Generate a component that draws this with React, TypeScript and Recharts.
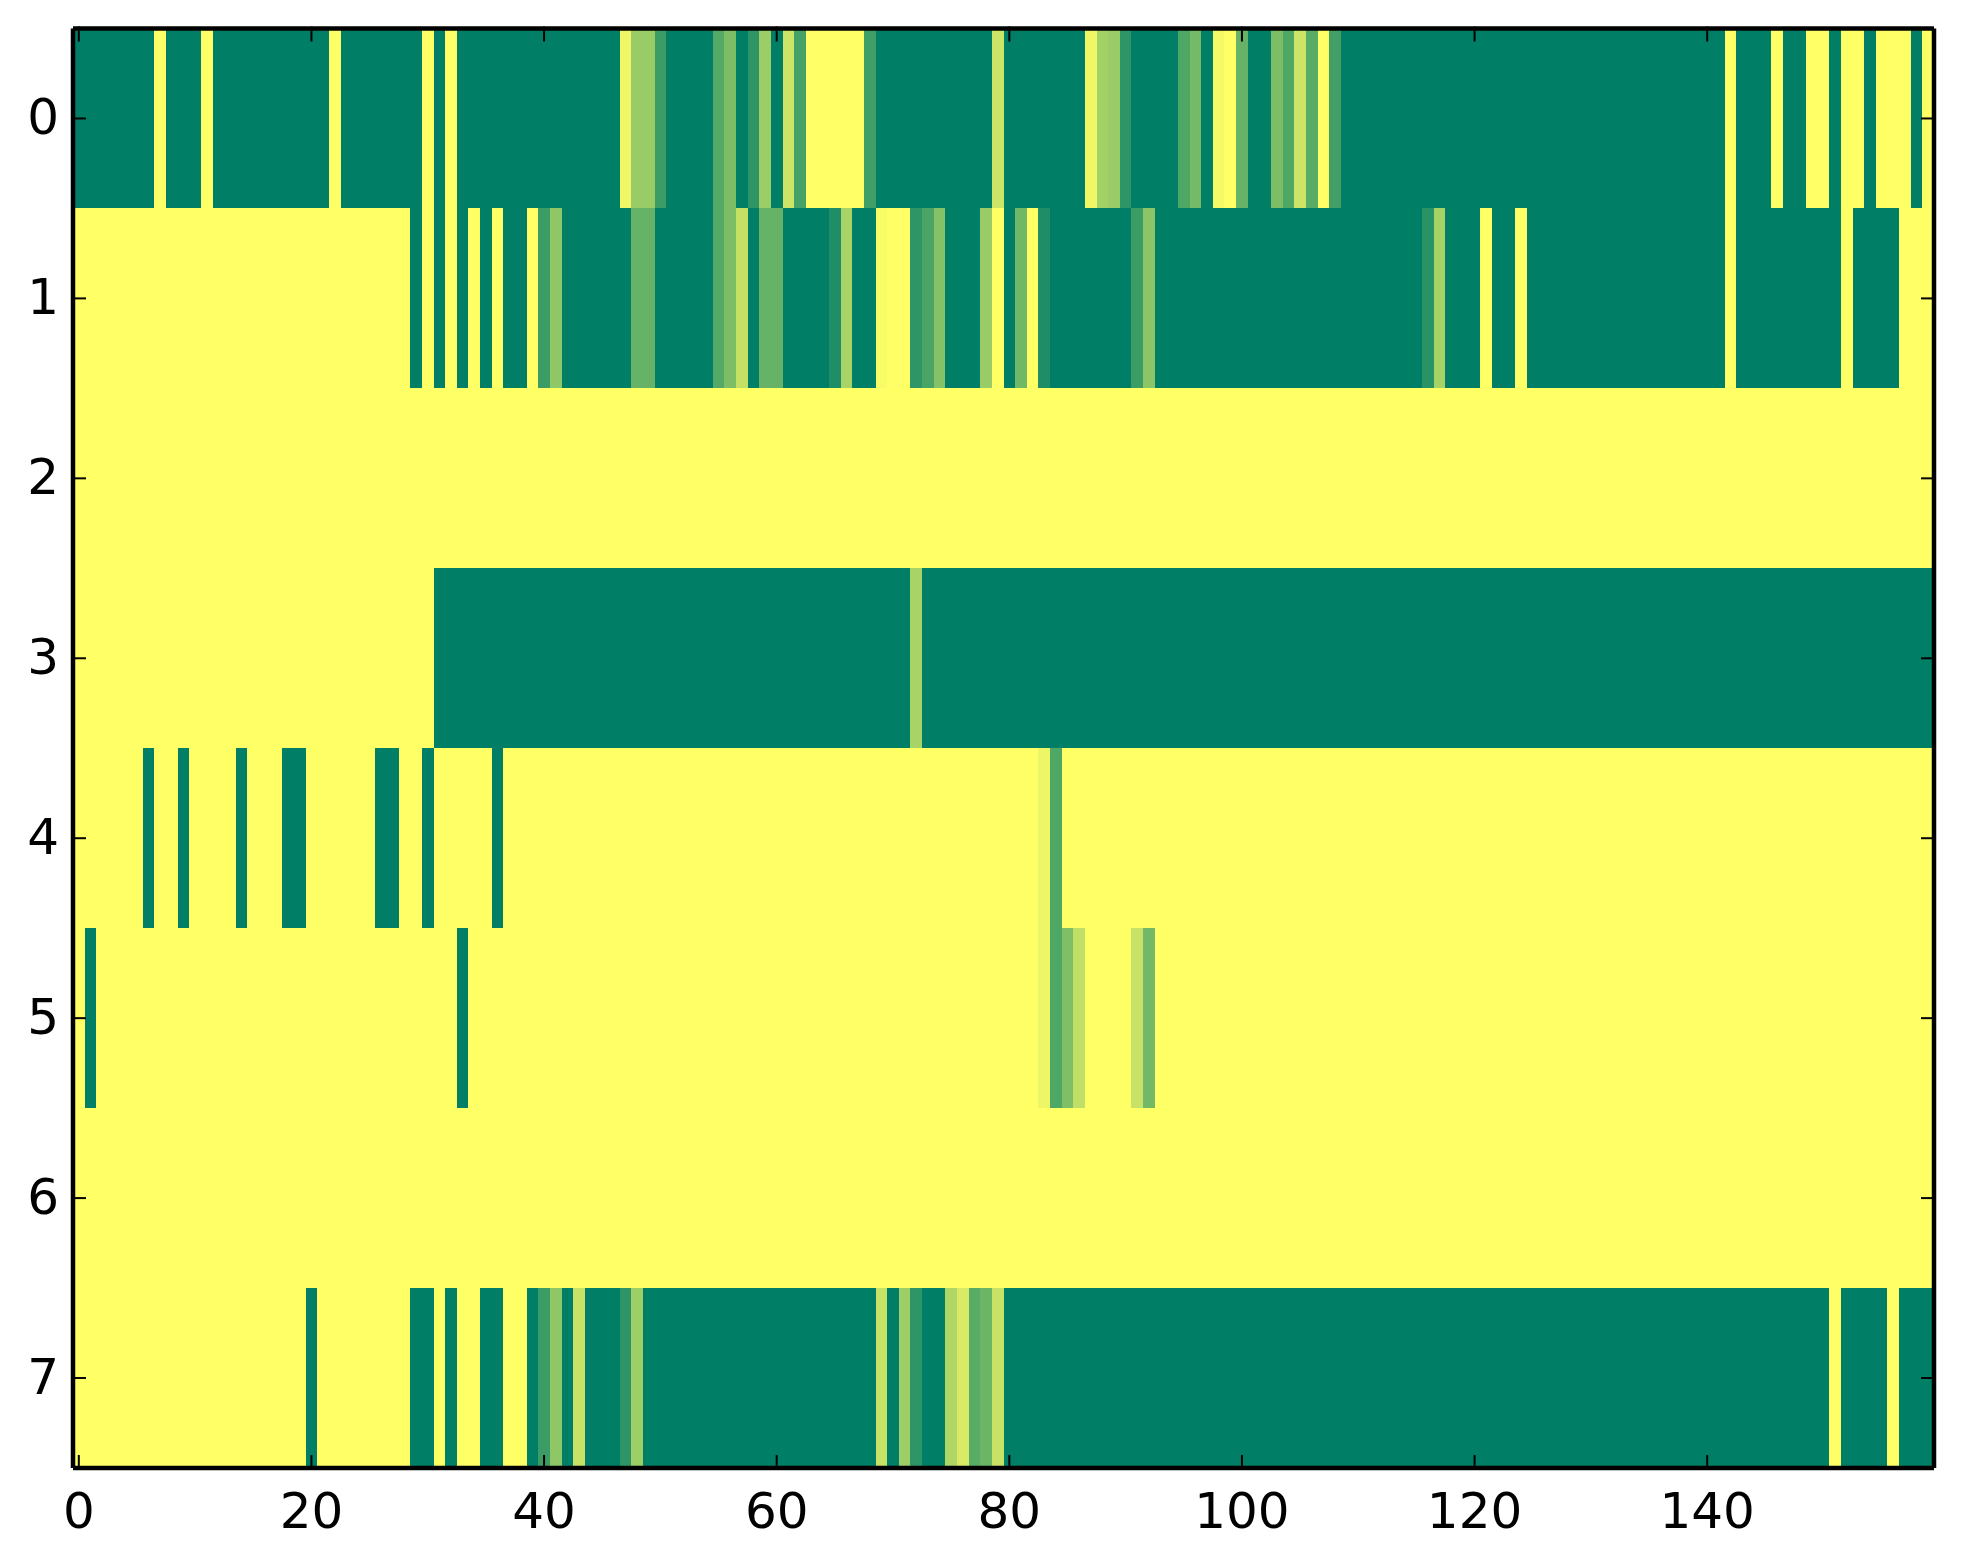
import React from 'react';
import { ScatterChart, Scatter, XAxis, YAxis } from 'recharts';

// each row is a list of runs: [value, how many columns]
const Y = 0;
const D = 1;

const ROW_0 = [[D,7],[Y,1],[D,3],[Y,1],[D,10],[Y,1],[D,7],[Y,1],[D,1],[Y,1],[D,14],[.06,1],[.4,2],[.77,1],[D,4],[.67,1],[.51,1],[D,1],[.82,1],[.39,1],[D,1],[.2,1],[.73,1],[Y,5],[.75,1],[D,10],[.2,1],[D,7],[.06,1],[.36,1],[.4,1],[.82,1],[D,4],[.69,1],[.54,1],[D,1],[.04,1],[Y,1],[.6,1],[D,2],[.51,1],[.69,1],[.2,1],[.65,1],[Y,1],[.74,1],[D,33],[Y,1],[D,3],[Y,1],[D,2],[Y,2],[D,1],[Y,2],[D,1],[Y,3],[D,1],[Y,1]];
const ROW_1 = [[Y,29],[D,1],[Y,1],[D,1],[Y,1],[D,1],[Y,1],[D,1],[Y,1],[D,2],[Y,1],[.77,1],[.44,1],[D,6],[.6,2],[D,5],[.67,1],[.51,1],[.23,1],[D,1],[.6,2],[D,4],[.88,1],[.34,1],[D,2],[.03,1],[Y,2],[.82,1],[.71,1],[.48,1],[D,3],[.4,1],[Y,1],[D,1],[.56,1],[Y,1],[.88,1],[D,7],[.77,1],[.45,1],[D,23],[.84,1],[.35,1],[D,3],[Y,1],[D,2],[Y,1],[D,17],[Y,1],[D,9],[Y,1],[D,4],[Y,3]];
const ROW_2 = [[Y,160]];
const ROW_3 = [[Y,31],[D,41],[.34,1],[D,87]];
const ROW_4 = [[Y,6],[D,1],[Y,2],[D,1],[Y,4],[D,1],[Y,3],[D,2],[Y,6],[D,2],[Y,2],[D,1],[Y,5],[D,1],[Y,46],[.07,1],[.69,1],[Y,75]];
const ROW_5 = [[Y,1],[D,1],[Y,31],[D,1],[Y,49],[.07,1],[.69,1],[.5,1],[.25,1],[Y,4],[.22,1],[.55,1],[Y,67]];
const ROW_6 = [[Y,160]];
const ROW_7 = [[Y,20],[D,1],[Y,8],[D,2],[Y,1],[D,1],[Y,2],[D,2],[Y,2],[D,1],[.77,1],[.44,1],[D,1],[.22,1],[D,3],[.82,1],[.38,1],[D,20],[.22,1],[D,1],[.38,1],[.82,1],[D,2],[.31,1],[.15,1],[.65,1],[.58,1],[.22,1],[D,71],[Y,1],[D,4],[Y,1],[D,3]];

const ROWS = [ROW_0, ROW_1, ROW_2, ROW_3, ROW_4, ROW_5, ROW_6, ROW_7];
const X_TICKS = [0, 20, 40, 60, 80, 100, 120, 140];
const Y_TICKS = [0, 1, 2, 3, 4, 5, 6, 7];

const W = 1963, H = 1564;
const LEFT = 73, RIGHT = 29, TOP = 28.5, BOTTOM = 96;
const CELL_W = (W - LEFT - RIGHT) / 160;
const CELL_H = (H - TOP - BOTTOM) / 8;
const FONT = '"DejaVu Sans", sans-serif';

// summer colormap, reversed
const summerR = (v: number) =>
  `rgb(${Math.round(255 * (1 - v))},${Math.floor(255 * (1 - v * 0.5))},102)`;

const cells = ROWS.flatMap((runs, row) => {
  let col = 0;
  return runs.flatMap(([value, n]) =>
    Array.from({ length: n }, () => ({ col: col++, row, value })));
});

const HeatCell = (p: any) => (
  <rect
    x={p.cx - CELL_W / 2}
    y={p.cy - CELL_H / 2}
    width={CELL_W}
    height={CELL_H}
    fill={summerR(p.payload.value)}
    shapeRendering="crispEdges"
  />
);

const BottomTick = ({ x, y, payload }: any) => (
  <g>
    <line x1={x} x2={x} y1={y} y2={y - 15} stroke="#000" strokeWidth={2} />
    <text x={x} y={y + 58} fontSize={50} fontFamily={FONT} textAnchor="middle" fill="#000">{payload.value}</text>
  </g>
);
const TopTick = ({ x, y }: any) => <line x1={x} x2={x} y1={y} y2={y + 15} stroke="#000" strokeWidth={2} />;
const LeftTick = ({ x, y, payload }: any) => (
  <g>
    <line x1={x} x2={x + 15} y1={y} y2={y} stroke="#000" strokeWidth={2} />
    <text x={x - 12} y={y + 16} fontSize={50} fontFamily={FONT} textAnchor="end" fill="#000">{payload.value}</text>
  </g>
);
const RightTick = ({ x, y }: any) => <line x1={x} x2={x - 15} y1={y} y2={y} stroke="#000" strokeWidth={2} />;

const frame = { stroke: '#000', strokeWidth: 4.5 };

export default function App() {
  return (
    <div style={{ position: 'absolute', left: 0, top: 0, width: W, height: H, background: '#fff' }}>
      <ScatterChart width={W} height={H} margin={{ top: TOP - 1, right: RIGHT - 1, left: 0, bottom: 0 }}>
        <Scatter data={cells} xAxisId="b" yAxisId="l" shape={HeatCell} isAnimationActive={false} zIndex={-100} />
        <Scatter data={cells.slice(0, 1)} xAxisId="t" yAxisId="r" shape={() => null} isAnimationActive={false} />
        <XAxis xAxisId="b" type="number" dataKey="col" domain={[-0.5, 159.5]} ticks={X_TICKS} height={BOTTOM} tickSize={0} tickLine={false} axisLine={frame} tick={BottomTick} interval={0} allowDataOverflow zIndex={1000} />
        <XAxis xAxisId="t" type="number" dataKey="col" orientation="top" domain={[-0.5, 159.5]} ticks={X_TICKS} height={1} tickSize={0} tickLine={false} axisLine={frame} tick={TopTick} interval={0} allowDataOverflow zIndex={1000} />
        <YAxis yAxisId="l" type="number" dataKey="row" domain={[-0.5, 7.5]} reversed ticks={Y_TICKS} width={LEFT} tickSize={0} tickLine={false} axisLine={frame} tick={LeftTick} interval={0} allowDataOverflow zIndex={1000} />
        <YAxis yAxisId="r" type="number" dataKey="row" orientation="right" domain={[-0.5, 7.5]} reversed ticks={Y_TICKS} width={1} tickSize={0} tickLine={false} axisLine={frame} tick={RightTick} interval={0} allowDataOverflow zIndex={1000} />
      </ScatterChart>
    </div>
  );
}
